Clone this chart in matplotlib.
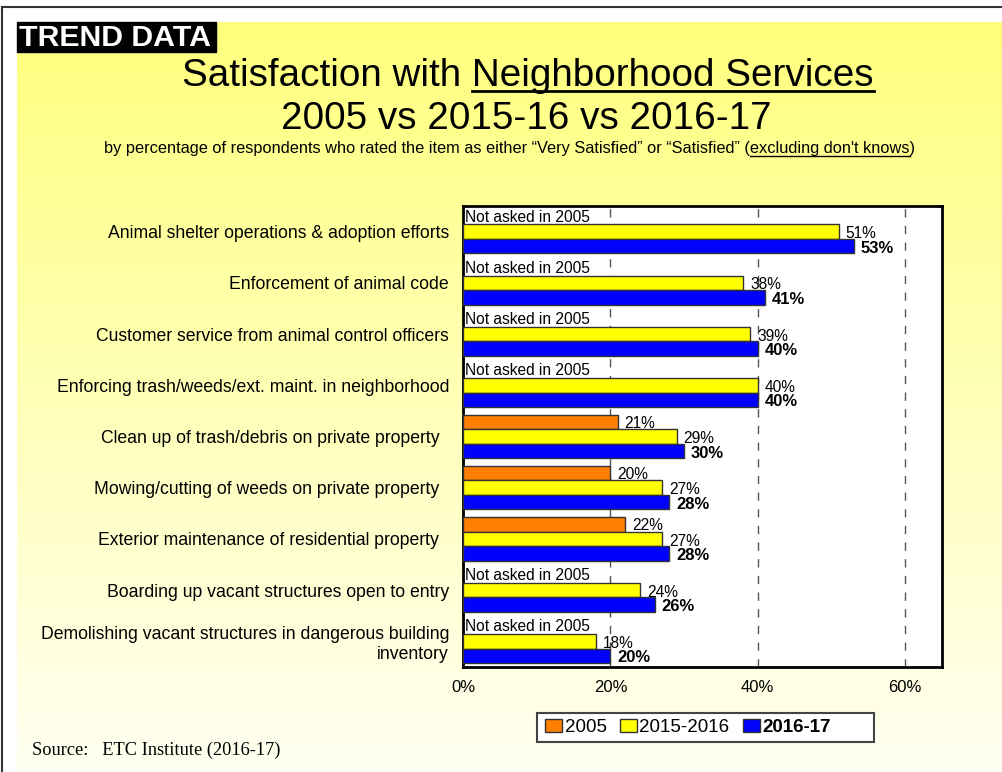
import matplotlib
matplotlib.use("Agg")
import matplotlib.pyplot as plt
import numpy as np
from matplotlib.patches import Rectangle, Patch

plt.rcParams["font.family"] = ["Liberation Sans", "DejaVu Sans"]

# données de l'enquête (en %)
categories = [
    "Animal shelter operations & adoption efforts",
    "Enforcement of animal code",
    "Customer service from animal control officers",
    "Enforcing trash/weeds/ext. maint. in neighborhood",
    "Clean up of trash/debris on private property  ",
    "Mowing/cutting of weeds on private property  ",
    "Exterior maintenance of residential property  ",
    "Boarding up vacant structures open to entry",
    "Demolishing vacant structures in dangerous building\ninventory",
]
val_2005 = [None, None, None, None, 21, 20, 22, None, None]
val_2016 = [51, 38, 39, 40, 29, 27, 27, 24, 18]
val_2017 = [53, 41, 40, 40, 30, 28, 28, 26, 20]
series_names = ["2005", "2015-2016", "2016-17"]
xticks = [0, 20, 40, 60]

W, H = 1003, 772
fig = plt.figure(figsize=(W / 100, H / 100), dpi=100)
fig.patch.set_facecolor("white")

# fond : dégradé jaune -> blanc, coordonnées en pixels
bg = fig.add_axes([0, 0, 1, 1], zorder=-10)
bg.set_xlim(0, W)
bg.set_ylim(H, 0)
bg.axis("off")
top = np.array([255, 255, 125]) / 255
bottom = np.array([255, 255, 242]) / 255
t = np.linspace(0, 1, 256)[:, None]
grad = (top * (1 - t) + bottom * t)[:, None, :]
bg.imshow(grad, extent=(17, W, H, 22), aspect="auto", interpolation="bilinear")
bg.plot([2, W], [7, 7], color="#333333", lw=1.5)
bg.plot([2, 2], [7, H], color="#333333", lw=1.5)

bg.add_patch(Rectangle((17, 22), 199, 30, color="black"))
bg.text(19, 37.5, "TREND DATA", color="white", weight="bold", fontsize=21.8, va="center", ha="left")

t1 = bg.text(528, 86, "Satisfaction with Neighborhood Services", fontsize=27.8, ha="center", va="baseline")
bg.text(526, 129, "2005 vs 2015-16 vs 2016-17", fontsize=27.8, ha="center", va="baseline")
t3 = bg.text(510, 153, "by percentage of respondents who rated the item as either \u201cVery Satisfied\u201d "
             "or \u201cSatisfied\u201d (excluding don't knows)", fontsize=11.8, ha="center", va="baseline")
bg.text(32, 750, "Source:   ETC Institute (2016-17)", family="Liberation Serif", fontsize=13.2,
        ha="left", va="center")

# graphique principal
ax = fig.add_axes([463 / W, 1 - 667 / H, 479 / W, 461 / H])
ax.set_facecolor("white")
y = np.arange(len(categories))
h = 0.283
edge = "#333333"
for i in range(len(categories)):
    if val_2005[i] is None:
        ax.text(0.3, i - h, "Not asked in 2005", fontsize=11.2, va="center", ha="left")
    else:
        ax.barh(i - h, val_2005[i], height=h, color="#FF8000", edgecolor=edge, lw=1, zorder=3)
        ax.annotate(f"{val_2005[i]}%", (val_2005[i], i - h), xytext=(5, -1), textcoords="offset points",
                    va="center", ha="left", fontsize=11.2)
ax.barh(y, val_2016, height=h, color="#FFFF00", edgecolor=edge, lw=1, zorder=3)
ax.barh(y + h, val_2017, height=h, color="#0000FF", edgecolor=edge, lw=1, zorder=3)
for i in range(len(categories)):
    ax.annotate(f"{val_2016[i]}%", (val_2016[i], i), xytext=(5, -1.5), textcoords="offset points",
                va="center", ha="left", fontsize=11.2)
    ax.annotate(f"{val_2017[i]}%", (val_2017[i], i + h), xytext=(5, -1.5), textcoords="offset points",
                va="center", ha="left", fontsize=12, weight="bold")

ax.set_xlim(0, 65)
ax.set_ylim(8.5, -0.5)
ax.set_xticks(xticks)
ax.set_xticklabels([f"{v}%" for v in xticks], fontsize=12)
ax.set_yticks(y)
ax.set_yticklabels(categories, fontsize=12.7)
ax.tick_params(axis="both", length=0)
ax.tick_params(axis="x", pad=9)
ax.tick_params(axis="y", pad=10)
ax.grid(axis="x", color="#555555", lw=1, linestyle=(0, (6, 6)))
ax.set_axisbelow(True)
for s in ax.spines.values():
    s.set_linewidth(2)
    s.set_color("black")

# légende : cadre dessiné à part, plus large que son contenu
bg.add_patch(Rectangle((537, 713), 337, 29, facecolor="white", edgecolor="#444444", lw=1.5))
handles = [Patch(facecolor=c, edgecolor=edge) for c in ["#FF8000", "#FFFF00", "#0000FF"]]
leg = fig.legend(handles, series_names, loc="center left", bbox_to_anchor=(529 / W, 1 - 727.5 / H), ncol=3,
                 fontsize=13.5, frameon=False, handlelength=0.9, handleheight=0.7,
                 handletextpad=0.15, columnspacing=0.7, borderpad=0.35)
leg.get_texts()[2].set_weight("bold")

# soulignements
fig.canvas.draw()
r = fig.canvas.get_renderer()

def text_width(s, src):
    tmp = bg.text(0, 0, s, fontsize=src.get_fontsize(), family=src.get_fontfamily())
    w = tmp.get_window_extent(r).width
    tmp.remove()
    return w

b1 = t1.get_window_extent(r)
x_end = b1.x1
x_start = x_end - text_width("Neighborhood Services", t1)
bg.plot([x_start, x_end], [90.5, 90.5], color="black", lw=2)

b3 = t3.get_window_extent(r)
x_end = b3.x1 - text_width(")", t3)
x_start = x_end - text_width("excluding don't knows", t3)
bg.plot([x_start, x_end], [155.5, 155.5], color="black", lw=1)

fig.savefig("out.png", dpi=100)
